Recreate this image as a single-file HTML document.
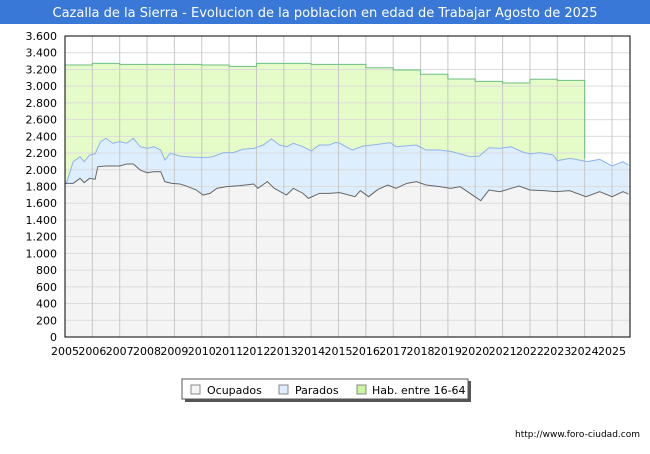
<!DOCTYPE html>
<html><head><meta charset="utf-8"><style>
body{margin:0;background:#fff;width:650px;height:450px;overflow:hidden;font-family:"DejaVu Sans","Liberation Sans",sans-serif}
</style></head><body>
<svg id="chart" width="650" height="450" xmlns="http://www.w3.org/2000/svg">
<rect x="0" y="0" width="650" height="24" fill="#3a78d8"/>
<text x="325" y="17" text-anchor="middle" font-size="13" fill="#fff" font-family="DejaVu Sans, sans-serif">Cazalla de la Sierra - Evolucion de la poblacion en edad de Trabajar Agosto de 2025</text>
<g id="plot"></g>
<g>
<rect x="185" y="381" width="286" height="21" fill="#555"/>
<rect x="182" y="379" width="286" height="20" fill="#fff" stroke="#555" stroke-width="1"/>
<rect x="191" y="385" width="9" height="9" fill="#f4f4f4" stroke="#888"/>
<text x="207" y="394" font-size="11" fill="#000">Ocupados</text>
<rect x="279" y="385" width="9" height="9" fill="#ddeeff" stroke="#888"/>
<text x="295" y="394" font-size="11" fill="#000">Parados</text>
<rect x="357" y="385" width="9" height="9" fill="#ccf5a0" stroke="#888"/>
<text x="372" y="394" font-size="11" fill="#000">Hab. entre 16-64</text>
</g>
<text x="640" y="437" text-anchor="end" font-size="9" fill="#000">http://www.foro-ciudad.com</text>
</svg>
<script>
const habYears=[2005,2006,2007,2008,2009,2010,2011,2012,2013,2014,2015,2016,2017,2018,2019,2020,2021,2022,2023];
const habValues=[3253,3273,3261,3261,3261,3253,3237,3273,3273,3261,3261,3221,3193,3142,3086,3058,3038,3082,3070];
const activosTimes=[2005.0,2005.05,2005.3,2005.55,2005.7,2005.9,2006.1,2006.3,2006.5,2006.75,2007,2007.25,2007.5,2007.75,2008,2008.25,2008.5,2008.65,2008.85,2009.2,2009.4,2009.8,2010.2,2010.4,2010.8,2011.15,2011.5,2011.9,2012.25,2012.55,2012.85,2013.1,2013.35,2013.7,2014,2014.3,2014.65,2014.9,2015.05,2015.5,2015.9,2016.25,2016.9,2017.1,2017.85,2018.2,2018.7,2019.15,2019.8,2020.15,2020.5,2020.9,2021.3,2021.7,2022,2022.35,2022.85,2023,2023.45,2023.8,2024.1,2024.55,2025,2025.4,2025.6];
const activosValues=[1838,1838,2097,2157,2097,2177,2190,2336,2376,2317,2336,2317,2376,2276,2256,2276,2236,2117,2197,2165,2157,2149,2149,2157,2205,2205,2245,2256,2296,2368,2296,2276,2317,2276,2225,2296,2296,2328,2317,2236,2284,2296,2325,2276,2296,2236,2236,2217,2157,2165,2264,2256,2276,2217,2189,2205,2177,2109,2137,2117,2097,2125,2046,2097,2057];
const ocupTimes=[2005.0,2005.3,2005.55,2005.7,2005.9,2006.1,2006.2,2006.5,2007,2007.25,2007.5,2007.75,2008,2008.25,2008.5,2008.65,2008.9,2009.2,2009.4,2009.8,2010.05,2010.3,2010.55,2010.9,2011.4,2011.9,2012.05,2012.4,2012.65,2013.1,2013.35,2013.7,2013.9,2014.3,2014.65,2015.05,2015.6,2015.8,2016.1,2016.45,2016.8,2017.1,2017.5,2017.85,2018.2,2018.7,2019.1,2019.45,2019.9,2020.2,2020.5,2020.9,2021.6,2022,2022.5,2022.95,2023.45,2024.05,2024.55,2025,2025.4,2025.6];
const ocupValues=[1838,1838,1898,1846,1898,1886,2037,2045,2045,2069,2069,1997,1965,1977,1977,1858,1838,1830,1810,1758,1698,1718,1778,1798,1810,1830,1778,1858,1778,1698,1778,1718,1658,1718,1718,1726,1678,1750,1678,1766,1818,1778,1838,1858,1818,1798,1778,1798,1698,1630,1758,1738,1806,1758,1750,1738,1750,1678,1738,1678,1738,1710];
const yTicks=[0,200,400,600,800,1000,1200,1400,1600,1800,2000,2200,2400,2600,2800,3000,3200,3400,3600];
const xTicks=[2005,2006,2007,2008,2009,2010,2011,2012,2013,2014,2015,2016,2017,2018,2019,2020,2021,2022,2023,2024,2025];
const X0=65,X1=630,Y0=337,Y1=36;
const sx=t=>X0+(t-2005)*27.35;
const sy=v=>Y0-(v/3600)*(Y0-Y1);
const NS="http://www.w3.org/2000/svg";
const g=document.getElementById('plot');
function mk(tag,attrs){const e=document.createElementNS(NS,tag);for(const k in attrs)e.setAttribute(k,attrs[k]);g.appendChild(e);return e;}
function fmt(v){return v>=1000?Math.floor(v/1000)+'.'+String(v%1000).padStart(3,'0'):String(v);}
const bg=mk('rect',{x:X0,y:Y1,width:X1-X0,height:Y0-Y1,fill:'#fff'});


// hab area (steps)
let hp=[];habYears.forEach((y,i)=>{hp.push([sx(y),sy(habValues[i])]);hp.push([sx(y+1),sy(habValues[i])]);});
const lastHabX=sx(habYears[habYears.length-1]+1);
const habArea=mk('path',{d:'M'+X0+','+Y0+' '+hp.map(p=>'L'+p[0]+','+p[1]).join(' ')+' L'+lastHabX+','+Y0+'Z',fill:'#e6fcc8'});


const ap=activosTimes.map((t,i)=>[Math.min(sx(t),X1),sy(activosValues[i])]);
const actArea=mk('path',{d:'M'+X0+','+Y0+' '+ap.map(p=>'L'+p[0]+','+p[1]).join(' ')+' L'+X1+','+Y0+'Z',fill:'#ddeeff'});


const op=ocupTimes.map((t,i)=>[Math.min(sx(t),X1),sy(ocupValues[i])]);
const ocArea=mk('path',{d:'M'+X0+','+Y0+' '+op.map(p=>'L'+p[0]+','+p[1]).join(' ')+' L'+X1+','+Y0+'Z',fill:'#f4f4f4'});


yTicks.forEach(v=>{
 const l=mk('line',{x1:X0,x2:X1,y1:sy(v),y2:sy(v),stroke:'#dcdcdc','stroke-width':1});
 
 
 const t=mk('text',{x:57,y:sy(v)+4,'text-anchor':'end','font-size':11,fill:'#000'});t.textContent=fmt(v);
 
 
});
xTicks.forEach(y=>{
 const l=mk('line',{x1:sx(y),x2:sx(y),y1:Y1,y2:Y0,stroke:'#c8c8c8','stroke-width':1});
 
 
 const t=mk('text',{x:sx(y),y:355,'text-anchor':'middle','font-size':11,fill:'#000'});t.textContent=y;
 
 
});
const habLine=mk('path',{d:'M'+hp.map(p=>p[0]+','+p[1]).join(' L')+' L'+lastHabX+','+sy(activosValues[activosValues.length-1]+80),fill:'none',stroke:'#6cbf84','stroke-width':1});


const actLine=mk('path',{d:'M'+ap.map(p=>p[0]+','+p[1]).join(' L'),fill:'none',stroke:'#8fb3ea','stroke-width':1});


const ocLine=mk('path',{d:'M'+op.map(p=>p[0]+','+p[1]).join(' L'),fill:'none',stroke:'#666','stroke-width':1});


const frame=mk('rect',{x:X0,y:Y1,width:X1-X0,height:Y0-Y1,fill:'none',stroke:'#000','stroke-width':1});


</script>
</body></html>
